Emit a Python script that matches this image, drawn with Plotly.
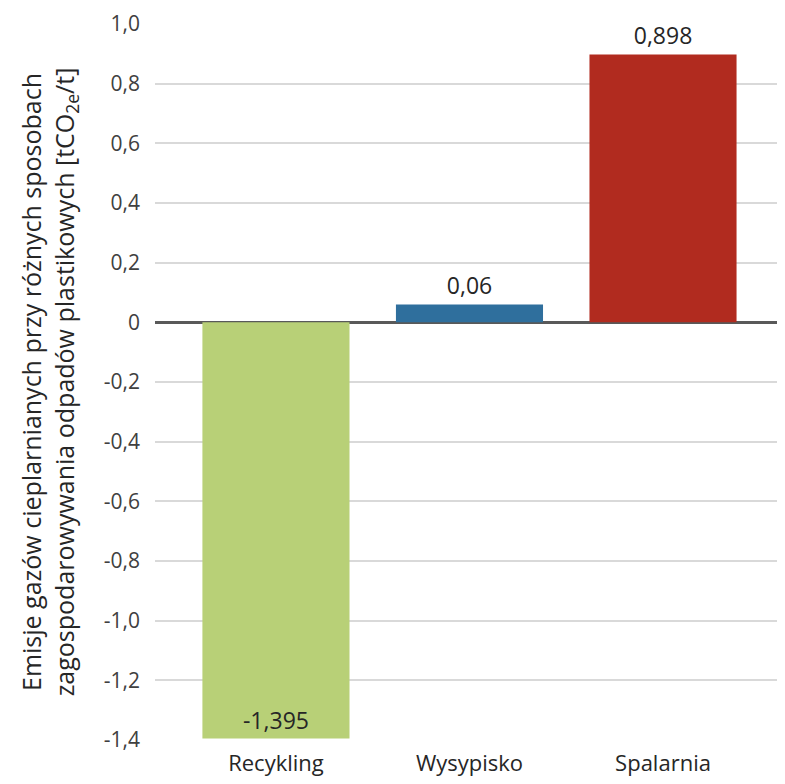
import plotly.graph_objects as go

categories = ["Recykling", "Wysypisko", "Spalarnia"]
values = [-1.395, 0.06, 0.898]
value_labels = ["-1,395", "0,06", "0,898"]
bar_colors = ["#b8d077", "#2f6f9d", "#b12b1f"]
tick_vals = [1.0, 0.8, 0.6, 0.4, 0.2, 0.0, -0.2, -0.4, -0.6, -0.8, -1.0, -1.2, -1.4]
tick_text = ["1,0", "0,8", "0,6", "0,4", "0,2", "0", "-0,2", "-0,4", "-0,6", "-0,8", "-1,0", "-1,2", "-1,4"]

FONT = "Open Sans"
TXT = "#262626"

fig = go.Figure()
fig.add_trace(go.Bar(
    x=categories,
    y=values,
    marker=dict(color=bar_colors, line=dict(width=0)),
    width=0.76,
    text=value_labels,
    textposition=["inside", "outside", "outside"],
    insidetextanchor="end",
    textfont=dict(family=FONT, size=23, color=TXT),
    cliponaxis=False,
))

fig.update_layout(
    width=785, height=784,
    margin=dict(l=147, r=10, t=16, b=52),
    paper_bgcolor="white",
    plot_bgcolor="white",
    showlegend=False,
    font=dict(family=FONT, color="#404040"),
    bargap=0.24,
)
fig.update_xaxes(
    range=[-0.625, 2.62],
    showgrid=False,
    zeroline=False,
    showline=False,
    ticks="",
    tickfont=dict(family=FONT, size=22, color=TXT),
    ticklabelstandoff=8,
    ticklabeloverflow="allow",
    automargin=False,
)
fig.update_yaxes(
    range=[-1.4, 1.0],
    tickvals=tick_vals,
    ticktext=tick_text,
    showgrid=True,
    gridcolor="#d9d9d9",
    gridwidth=1.5,
    zeroline=True,
    zerolinecolor="#595959",
    zerolinewidth=2.5,
    showline=False,
    ticks="",
    tickfont=dict(family=FONT, size=21, color="#404040"),
    ticklabelstandoff=14,
    ticklabeloverflow="allow",
    automargin=False,
    title=dict(
        text="Emisje gazów cieplarnianych przy różnych sposobach<br>zagospodarowywania odpadów plastikowych [tCO<sub>2e</sub>/t]",
        font=dict(family=FONT, size=25, color="#262626"),
        standoff=22,
    ),
)

fig.write_html("out.html")
